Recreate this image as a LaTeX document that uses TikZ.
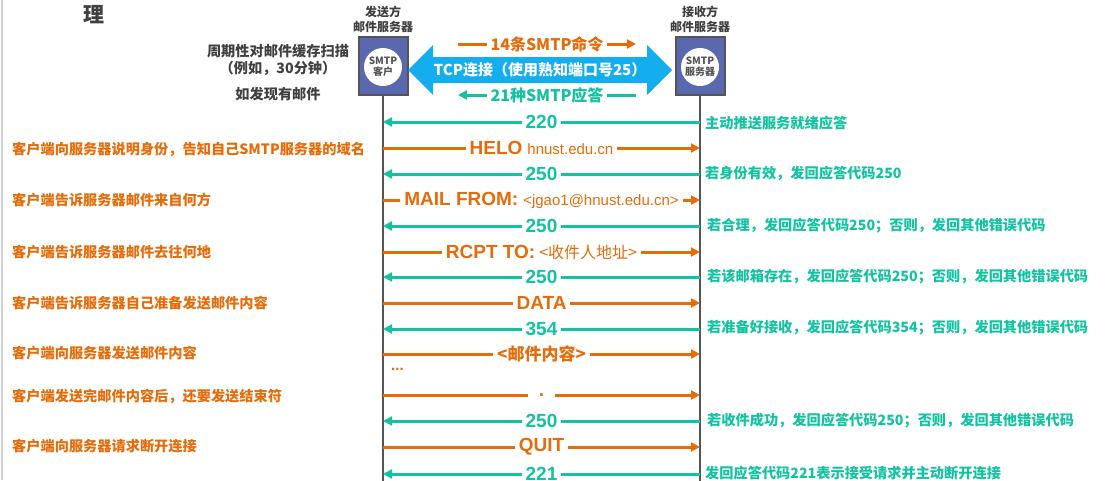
\documentclass[tikz,border=0pt]{standalone}
\usepackage{fontspec}
\setmainfont{Liberation Sans}
\newfontfamily\cjk{Noto Sans CJK SC}
\usetikzlibrary{arrows.meta,positioning}
\definecolor{cmdorange}{HTML}{E46C0A}
\definecolor{rspteal}{HTML}{12C2A0}
\definecolor{tcpcyan}{HTML}{14ADEE}
\definecolor{boxblue}{HTML}{5A68B0}
\definecolor{darkgray}{HTML}{404040}
\definecolor{edgegray}{HTML}{555555}
\newcommand{\pxfont}[1]{\fontsize{#1}{#1}\selectfont}
\newcommand{\msgfont}{\bfseries\pxfont{19}}
\newcommand{\notefont}{\cjk\bfseries\pxfont{14.2}}

\tikzset{
  cmd/.style={color=cmdorange, line width=3pt, -{Triangle[length=9pt,width=9pt]}},
  rsp/.style={color=rspteal, line width=3pt, -{Triangle[length=9pt,width=9pt]}},
  lbl/.style={fill=white, inner xsep=4pt, inner ysep=1pt, midway},
  hostbox/.style={draw=edgegray, line width=2pt, fill=boxblue,
                  minimum width=49pt, minimum height=58pt},
  smtpcirc/.style={circle, fill=white, minimum size=38pt, inner sep=0pt,
                   align=center, text=edgegray, font=\cjk\bfseries\fontsize{10}{11}\selectfont},
  hostlbl/.style={align=center, inner sep=0pt, text=darkgray,
                  font=\cjk\bfseries\fontsize{12}{15}\selectfont},
  life/.style={draw=edgegray, line width=1.5pt},
  lnote/.style={anchor=west, inner sep=0pt, text=cmdorange, font=\notefont},
  rnote/.style={anchor=west, inner sep=0pt, text=rspteal, font=\notefont},
  scan/.style={inner sep=0pt, text=darkgray, font=\notefont}
}

\begin{document}
\begin{tikzpicture}[x=1pt,y=-1pt]
    \useasboundingbox (0,0) rectangle (1105,480);
    \clip (0,0) rectangle (1105,480);
    \draw[gray!35, line width=2pt] (2,0) -- (2,480);

    % title remnant
    \node[text=darkgray, font=\cjk\bfseries\pxfont{21}, inner sep=0pt] (ttl) at (94,15) {理};

    % mail servers
    \node[hostbox] (cli) at (383,66) {};
    \node[smtpcirc] (cliC) at (383,67) {SMTP\\客户};
    \node[hostlbl, above=3pt of cli] (cliL) {发送方\\邮件服务器};
    \node[hostbox] (srv) at (700,66) {};
    \node[smtpcirc] (srvC) at (700,67) {SMTP\\服务器};
    \node[hostlbl, above=3pt of srv] (srvL) {接收方\\邮件服务器};
    \draw[life] (cli.south) -- (cli |- 0,490);
    \draw[life] (srv.south) -- (srv |- 0,490);

    % scan notes
    \node[scan] (scan1) at (278,51) {周期性对邮件缓存扫描};
    \node[scan] (scan2) at (278,68) {（例如，30分钟）};
    \node[scan] (scan3) at (278,94) {如发现有邮件};

    % TCP connection
    \fill[tcpcyan] (408,70) -- (433,45) -- (433,57) -- (647,57) -- (647,45)
        -- (672,70) -- (647,95) -- (647,83) -- (433,83) -- (433,95) -- cycle;
    \node[text=white, font=\cjk\bfseries\pxfont{15}] (tcp) at (540,70) {TCP连接（使用熟知端口号25）};
    \coordinate (cmdA) at (458,44);
    \coordinate (cmdB) at (636,44);
    \coordinate (rspA) at (636,95);
    \coordinate (rspB) at (458,95);
    \draw[cmd] (cmdA) -- (cmdB) node[lbl, font=\cjk\bfseries\pxfont{16}] {14条SMTP命令};
    \draw[rsp] (rspA) -- (rspB) node[lbl, font=\cjk\bfseries\pxfont{16}] {21种SMTP应答};

    % command / reply sequence
    \draw[rsp] (srv |- 0,122) -- (cli |- 0,122) node[lbl, font=\msgfont] {220};
    \draw[cmd] (cli |- 0,148) -- (srv |- 0,148) node[lbl, font=\msgfont] {HELO\hspace{5pt}{\mdseries\pxfont{15}hnust.edu.cn}};
    \draw[rsp] (srv |- 0,174) -- (cli |- 0,174) node[lbl, font=\msgfont] {250};
    \draw[cmd] (cli |- 0,200) -- (srv |- 0,200) node[lbl, font=\msgfont] {MAIL FROM:\hspace{5pt}{\mdseries\pxfont{15}<jgao1@hnust.edu.cn>}};
    \draw[rsp] (srv |- 0,226) -- (cli |- 0,226) node[lbl, font=\msgfont] {250};
    \draw[cmd] (cli |- 0,252) -- (srv |- 0,252) node[lbl, font=\msgfont] {RCPT TO:\hspace{4pt}{\cjk\mdseries\pxfont{16}<收件人地址>}};
    \draw[rsp] (srv |- 0,277) -- (cli |- 0,277) node[lbl, font=\msgfont] {250};
    \draw[cmd] (cli |- 0,303) -- (srv |- 0,303) node[lbl, font=\msgfont] {DATA};
    \draw[rsp] (srv |- 0,329) -- (cli |- 0,329) node[lbl, font=\msgfont] {354};
    \draw[cmd] (cli |- 0,354) -- (srv |- 0,354) node[lbl, font=\cjk\bfseries\pxfont{17}] {<邮件内容>};
    \node[anchor=west, inner sep=0pt, text=cmdorange, font=\bfseries\pxfont{15}] (dots) at (391,369) {...};
    \draw[cmd] (cli |- 0,395) -- (srv |- 0,395) node[lbl, inner xsep=11pt, font=\msgfont] {.};
    \draw[rsp] (srv |- 0,421) -- (cli |- 0,421) node[lbl, font=\msgfont] {250};
    \draw[cmd] (cli |- 0,447) -- (srv |- 0,447) node[lbl, font=\msgfont] {QUIT};
    \draw[rsp] (srv |- 0,474) -- (cli |- 0,474) node[lbl, font=\msgfont] {221};

    % client side notes
    \node[lnote] (l1) at (12,149) {客户端向服务器说明身份，告知自己SMTP服务器的域名};
    \node[lnote] (l2) at (12,200) {客户端告诉服务器邮件来自何方};
    \node[lnote] (l3) at (12,252) {客户端告诉服务器邮件去往何地};
    \node[lnote] (l4) at (12,303) {客户端告诉服务器自己准备发送邮件内容};
    \node[lnote] (l5) at (12,353) {客户端向服务器发送邮件内容};
    \node[lnote] (l6) at (12,396) {客户端发送完邮件内容后，还要发送结束符};
    \node[lnote] (l7) at (12,446) {客户端向服务器请求断开连接};

    % server side notes
    \node[rnote] (r1) at (705,123) {主动推送服务就绪应答};
    \node[rnote] (r2) at (705,173) {若身份有效，发回应答代码250};
    \node[rnote] (r3) at (707,226) {若合理，发回应答代码250；否则，发回其他错误代码};
    \node[rnote] (r4) at (707,277) {若该邮箱存在，发回应答代码250；否则，发回其他错误代码};
    \node[rnote] (r5) at (707,328) {若准备好接收，发回应答代码354；否则，发回其他错误代码};
    \node[rnote] (r6) at (707,421) {若收件成功，发回应答代码250；否则，发回其他错误代码};
    \node[rnote] (r7) at (705,473) {发回应答代码221表示接受请求并主动断开连接};
\end{tikzpicture}
\end{document}
